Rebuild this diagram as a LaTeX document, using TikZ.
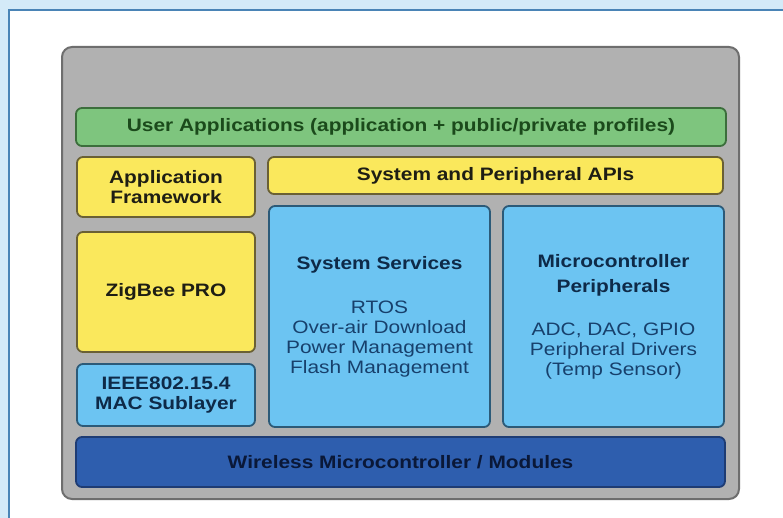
\documentclass[tikz,border=0pt]{standalone}
\usepackage{fontspec}
\setmainfont{Liberation Sans}[FakeStretch=1.16]
\definecolor{bandbg}{HTML}{D4EAF8}
\definecolor{bandline}{HTML}{4A84B6}
\definecolor{grayfill}{HTML}{B1B1B1}
\definecolor{grayline}{HTML}{6E6E6E}
\definecolor{greenfill}{HTML}{7EC57E}
\definecolor{greenline}{HTML}{3C6E3C}
\definecolor{greentext}{HTML}{1B4A1B}
\definecolor{yelfill}{HTML}{FAE85C}
\definecolor{yelline}{HTML}{6A6034}
\definecolor{yeltext}{HTML}{1E1E14}
\definecolor{ltbfill}{HTML}{6CC4F2}
\definecolor{ltbline}{HTML}{2C5A78}
\definecolor{ltbtext}{HTML}{0E2A48}
\definecolor{ltbtext2}{HTML}{17406C}
\definecolor{dkbfill}{HTML}{2E5EAE}
\definecolor{dkbline}{HTML}{1E3C74}
\definecolor{dkbtext}{HTML}{0A1838}
\tikzset{
  layer/.style={draw, line width=1.8pt, rounded corners=6pt, inner sep=0pt, align=center,
    font=\fontsize{18}{20}\selectfont\bfseries},
  greenbox/.style={layer, fill=greenfill, draw=greenline, text=greentext},
  yelbox/.style={layer, fill=yelfill, draw=yelline, text=yeltext},
  ltbbox/.style={layer, fill=ltbfill, draw=ltbline, text=ltbtext},
  dkbbox/.style={layer, fill=dkbfill, draw=dkbline, text=dkbtext},
}
\newcommand{\plainline}[1]{{\mdseries\color{ltbtext2}#1}}
\begin{document}
\begin{tikzpicture}[x=1pt,y=-1pt]
\useasboundingbox (0,0) rectangle (783,518);
\fill[bandbg] (0,0) rectangle (783,518);
\fill[white] (9,10) rectangle (783,518);
\draw[bandline, line width=2pt] (8.5,518) -- (8.5,10) -- (783,10);
\node[draw=grayline, fill=grayfill, line width=2pt, rounded corners=10pt,
  minimum width=677pt, minimum height=452pt, inner sep=0pt] (base) at (400.5,273) {};
\node[greenbox, minimum width=650pt, minimum height=38pt] (user) at (401,127)
  {User Applications (application + public/private profiles)};
\node[yelbox, minimum width=178pt, minimum height=60pt] (appfw) at (166,187)
  {Application\\Framework};
\node[yelbox, minimum width=455pt, minimum height=37pt] (apis) at (495.5,175.5)
  {System and Peripheral APIs};
\node[yelbox, minimum width=178pt, minimum height=120pt] (zigbee) at (166,292)
  {ZigBee PRO};
\node[ltbbox, minimum width=178pt, minimum height=62pt] (ieee) at (166,395)
  {IEEE802.15.4\\MAC Sublayer};
\node[ltbbox, minimum width=221pt, minimum height=221pt] (sys) at (379.5,316.5)
  {System Services\\[24pt]\plainline{RTOS}\\\plainline{Over-air Download}\\\plainline{Power Management}\\\plainline{Flash Management}};
\node[ltbbox, minimum width=221pt, minimum height=221pt] (micro) at (613.5,316.5)
  {Microcontroller\\[5pt]Peripherals\\[23pt]\plainline{ADC, DAC, GPIO}\\\plainline{Peripheral Drivers}\\\plainline{(Temp Sensor)}};
\node[dkbbox, minimum width=649pt, minimum height=50pt] (wireless) at (400.5,462)
  {Wireless Microcontroller / Modules};
\end{tikzpicture}
\end{document}
